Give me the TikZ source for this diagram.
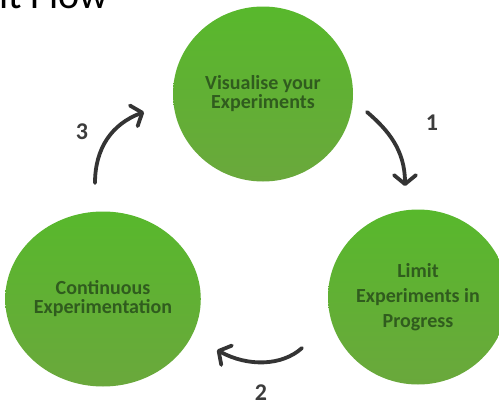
\documentclass[tikz,border=0pt]{standalone}
\usepackage{fontspec}
\setmainfont{Carlito}
\usetikzlibrary{shapes.geometric,arrows.meta}
\definecolor{circtop}{RGB}{88,184,44}
\definecolor{circbot}{RGB}{106,168,60}
\definecolor{circtext}{RGB}{48,92,30}
\definecolor{arrowgray}{RGB}{52,52,52}
\definecolor{numgray}{RGB}{60,60,60}
\tikzset{
  stepcircle/.style={ellipse, minimum width=180pt, minimum height=175pt, inner sep=0pt,
    top color=circtop, bottom color=circbot, draw=none, align=center,
    text=circtext, font=\bfseries\fontsize{20}{19}\selectfont},
  flowarrow/.style={draw=arrowgray, line width=3.8pt, line cap=round,
    -{Straight Barb[length=9pt,width=22pt,line cap=round,line join=round]}},
  numlabel/.style={text=numgray, font=\bfseries\fontsize{24}{24}\selectfont, inner sep=0pt},
  titletext/.style={font=\fontsize{40}{40}\selectfont, inner sep=0pt, anchor=base west}
}
\begin{document}
\begin{tikzpicture}[x=1pt,y=1pt]
\useasboundingbox (0,0) rectangle (499,-407);
\fill[white] (0,0) rectangle (499,-407);
\node[titletext] (title) at (-1,-8) {it Flow};
\node[stepcircle] (vis) at (263,-94) {Visualise your\\Experiments};
\node[stepcircle] (cont) at (103,-299) {Continuous\\Experimentation};
\node[stepcircle, font=\bfseries\fontsize{20}{25}\selectfont] (lim) at (418,-297) {Limit\\Experiments in\\Progress};
\coordinate (a1s) at (367,-112);
\coordinate (a1e) at (405,-186);
\coordinate (a2s) at (302,-348);
\coordinate (a2e) at (217,-350);
\coordinate (a3s) at (95,-183);
\coordinate (a3e) at (144,-112);
\draw[flowarrow] (a1s) .. controls (388,-130) and (405,-150) .. (a1e);
\draw[flowarrow] (a2s) .. controls (282,-366) and (248,-367) .. (a2e);
\draw[flowarrow] (a3s) .. controls (95,-148) and (112,-124) .. (a3e);
\node[numlabel] (n1) at (432,-123) {1};
\node[numlabel] (n2) at (261,-393) {2};
\node[numlabel] (n3) at (82,-132) {3};
\end{tikzpicture}
\end{document}
